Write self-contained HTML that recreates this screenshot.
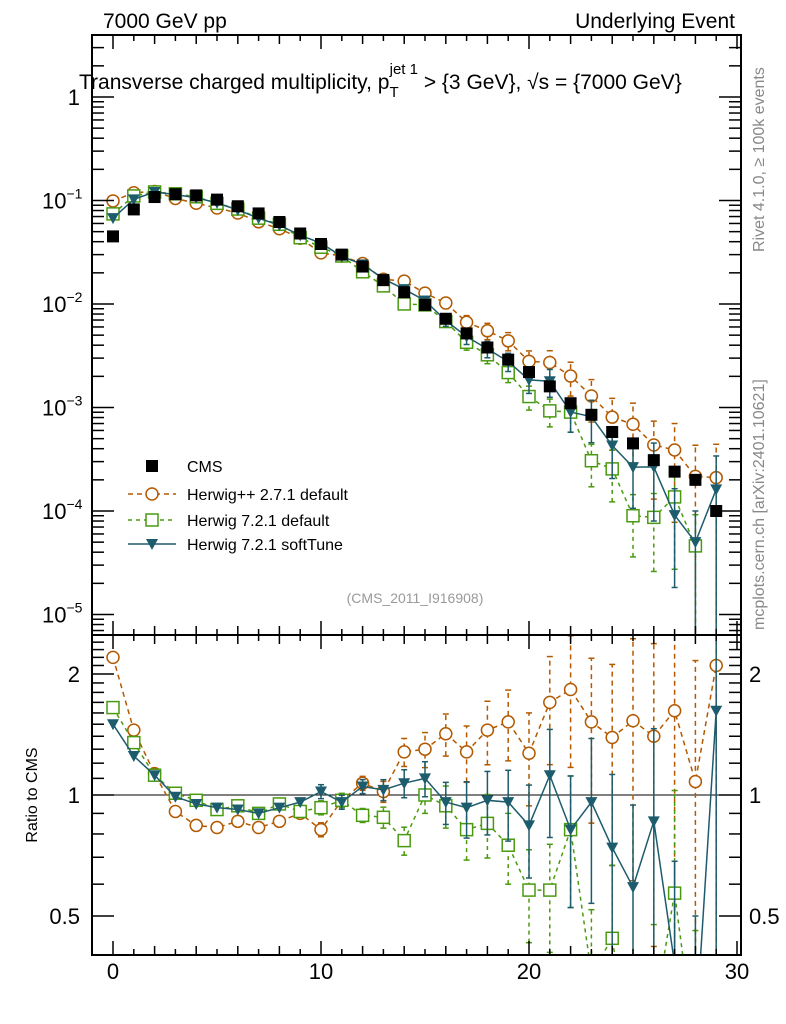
<!DOCTYPE html>
<html><head><meta charset="utf-8"><style>
html,body{margin:0;padding:0;background:#fff;width:786px;height:1024px;overflow:hidden;}
svg{display:block;font-family:"Liberation Sans",sans-serif;}
</style></head><body>
<svg id="chart" width="786" height="1024" viewBox="0 0 786 1024" xmlns="http://www.w3.org/2000/svg">
<text x="103" y="28" font-size="21">7000 GeV pp</text>
<text x="735" y="28" font-size="21" text-anchor="end">Underlying Event</text>
<text transform="translate(764,252) rotate(-90)" font-size="16" fill="#888">Rivet 4.1.0, ≥ 100k events</text>
<text transform="translate(764,630) rotate(-90)" font-size="16" fill="#888">mcplots.cern.ch [arXiv:2401.10621]</text>
<text transform="translate(37,795) rotate(-90)" font-size="16" text-anchor="middle">Ratio to CMS</text>
<text x="415" y="603" font-size="14" fill="#999" text-anchor="middle">(CMS_2011_I916908)</text>
<g id="main"></g>
<g id="ratio"></g>
<g id="axes"></g>
<text x="79" y="89" font-size="21">Transverse charged multiplicity, p<tspan dy="8" font-size="15">T</tspan><tspan dy="-23" dx="-9" font-size="15">jet 1</tspan><tspan dy="15"> &gt; {3 GeV}, √s = {7000 GeV}</tspan></text>
<g id="legend"></g>
</svg>
<script>
const nch = [0,1,2,3,4,5,6,7,8,9,10,11,12,13,14,15,16,17,18,19,20,21,22,23,24,25,26,27,28,29];
const cms = [0.045,0.082,0.108,0.115,0.112,0.102,0.088,0.075,0.062,0.048,0.038,0.030,0.023,0.017,0.013,0.0098,0.0072,0.0052,0.0038,0.0029,0.0022,0.0016,0.0011,0.00085,0.00058,0.00045,0.00031,0.00024,0.00020,0.00010];
const ratioHpp = [2.2,1.45,1.13,0.91,0.84,0.83,0.86,0.83,0.86,0.9,0.82,0.97,1.07,1.02,1.28,1.3,1.42,1.28,1.45,1.52,1.27,1.7,1.83,1.52,1.39,1.53,1.4,1.62,1.08,2.1];
const ratioH7 = [1.65,1.35,1.12,1.01,0.97,0.92,0.94,0.9,0.95,0.91,0.93,0.97,0.89,0.88,0.77,1.0,0.94,0.82,0.85,0.75,0.58,0.58,0.82,0.36,0.44,0.2,0.28,0.57,0.23,null];
const ratioSoft = [1.5,1.25,1.12,0.99,0.95,0.93,0.92,0.9,0.93,0.96,1.02,0.96,1.05,1.03,1.07,1.1,0.96,0.93,0.97,0.96,0.84,1.12,0.82,0.96,0.74,0.59,0.86,0.38,0.25,1.62];
const relErr = [0.01,0.01,0.01,0.01,0.01,0.01,0.01,0.01,0.01,0.01,0.02,0.02,0.02,0.03,0.04,0.05,0.06,0.08,0.09,0.1,0.13,0.15,0.18,0.22,0.26,0.3,0.35,0.4,0.5,0.55];
const mainTicks = [0,-1,-2,-3,-4,-5];
const ratioTicks = [2,1,0.5];
const xTicks = [0,10,20,30];

const NS="http://www.w3.org/2000/svg";
const L=92,R=741,MT=35,MB=635,RT=635,RB=955;
const X=v=>113+20.8*v;
const YM=v=>97-103.5*Math.log10(v);
const YR=v=>795-121*Math.log2(v);
function mk(tag,attrs,parent){const e=document.createElementNS(NS,tag);for(const k in attrs)e.setAttribute(k,attrs[k]);parent.appendChild(e);return e;}
const main=document.getElementById('main'),ratio=document.getElementById('ratio'),axes=document.getElementById('axes');

const series=[
 {r:ratioHpp,c:'#b35900',dash:'5,4',m:'circle',name:'herwigpp'},
 {r:ratioH7,c:'#4a9a10',dash:'4,4',m:'square',name:'herwig7'},
 {r:ratioSoft,c:'#1d5c6c',dash:'',m:'tri',name:'softtune'}];

function marker(g,m,x,y,c){
 let e;
 if(m==='circle'){e=mk('circle',{cx:x,cy:y,r:6,fill:'#fff',stroke:c,'stroke-width':1.5},g);}
 else if(m==='square'){e=mk('rect',{x:x-6,y:y-6,width:12,height:12,fill:'#fff',stroke:c,'stroke-width':1.5},g);}
 else if(m==='tri'){e=mk('path',{d:`M${x-6},${y-5}L${x+6},${y-5}L${x},${y+6}Z`,fill:c},g);}
 else {e=mk('rect',{x:x-6,y:y-6,width:12,height:12,fill:'#000'},g);}
 return e;
}
function clip(g,id,y0,y1){const d=mk('clipPath',{id:id},g);mk('rect',{x:L,y:y0,width:R-L,height:y1-y0},d);}
clip(main,'cm',MT,MB);clip(ratio,'cr',RT,RB);
const mg=mk('g',{'clip-path':'url(#cm)'},main);
const rg=mk('g',{'clip-path':'url(#cr)'},ratio);

const rl=mk('line',{x1:L,x2:R,y1:YR(1),y2:YR(1),stroke:'#000','stroke-width':1},rg);



series.forEach(s=>{
 const idx=nch.map((n,i)=>i).filter(i=>s.r[i]!==null);
 const vals=cms.map((v,i)=>s.r[i]===null?null:v*s.r[i]);
 const lg=mk('g',{},mg);
 
 
 const rgg=mk('g',{},rg);
 
 
 const pm=idx.map(i=>`${X(nch[i])},${YM(vals[i])}`).join(' ');
 const pr=idx.map(i=>`${X(nch[i])},${YR(s.r[i])}`).join(' ');
 mk('polyline',{points:pm,fill:'none',stroke:s.c,'stroke-width':1.5,'stroke-dasharray':s.dash},lg);
 mk('polyline',{points:pr,fill:'none',stroke:s.c,'stroke-width':1.5,'stroke-dasharray':s.dash},rgg);
 idx.forEach(i=>{
  const n=nch[i];
  const e=relErr[i]*2;
  const lo=Math.max(vals[i]*(1-e),1e-7),hi=vals[i]*(1+e);
  const x=X(n);
  if(e>0.03){
   mk('line',{x1:x,x2:x,y1:YM(lo),y2:YM(hi),stroke:s.c,'stroke-width':1.5,'stroke-dasharray':s.dash},lg);
   mk('line',{x1:x-3,x2:x+3,y1:YM(hi),y2:YM(hi),stroke:s.c,'stroke-width':1.5},lg);
   mk('line',{x1:x-3,x2:x+3,y1:YM(lo),y2:YM(lo),stroke:s.c,'stroke-width':1.5},lg);
   const rlo=Math.max(s.r[i]*(1-e),0.01),rhi=s.r[i]*(1+e);
   mk('line',{x1:x,x2:x,y1:YR(rlo),y2:YR(rhi),stroke:s.c,'stroke-width':1.5,'stroke-dasharray':s.dash},rgg);
   mk('line',{x1:x-3,x2:x+3,y1:YR(rhi),y2:YR(rhi),stroke:s.c,'stroke-width':1.5},rgg);
   mk('line',{x1:x-3,x2:x+3,y1:YR(rlo),y2:YR(rlo),stroke:s.c,'stroke-width':1.5},rgg);
  }
  const p=marker(lg,s.m,x,YM(vals[i]),s.c);
  
  
  const q=marker(rgg,s.m,x,YR(s.r[i]),s.c);
  
  
 });
});
const dg=mk('g',{},mg);


nch.forEach((n,i)=>{
 const p=marker(dg,'data',X(n),YM(cms[i]),'#000');
 
 
});

mk('rect',{x:L,y:MT,width:R-L,height:MB-MT,fill:'none',stroke:'#000','stroke-width':2},axes);
mk('rect',{x:L,y:RT,width:R-L,height:RB-RT,fill:'none',stroke:'#000','stroke-width':2},axes);
for(let v=-1;v<=30;v++){
 const x=X(v);const len=(v%10===0)?14:(v%2===0?9:6);
 [[MT,1],[MB,-1],[RT,1],[RB,-1]].forEach(([y,d])=>mk('line',{x1:x,x2:x,y1:y,y2:y+d*len,stroke:'#000','stroke-width':1.5},axes));
}
xTicks.forEach(v=>{
 const t=mk('text',{x:X(v),y:979,'font-size':22,'text-anchor':'middle'},axes);t.textContent=v;
 
 
});
for(let d=-6;d<=0;d++){for(let k=1;k<=9;k++){
 const v=k*Math.pow(10,d);const y=YM(v);if(y<MT||y>MB)continue;
 const len=k===1?22:12;
 mk('line',{x1:L,x2:L+len,y1:y,y2:y,stroke:'#000','stroke-width':1.5},axes);
 mk('line',{x1:R,x2:R-len,y1:y,y2:y,stroke:'#000','stroke-width':1.5},axes);
}}
mainTicks.forEach(d=>{
 const t=mk('text',{x:d===0?80:42,y:YM(Math.pow(10,d))+8,'font-size':22,'text-anchor':d===0?'end':'start'},axes);
 
 
 if(d===0)t.textContent='1';
 else{t.textContent='10';const s=mk('tspan',{dy:-10,'font-size':14},t);s.textContent='−'+(-d);}
});
for(let v=0.4;v<=2.5;v+=0.1){const y=YR(v);if(y<RT||y>RB)continue;
 const major=Math.abs(v-1)<1e-6||Math.abs(v-2)<1e-6||Math.abs(v-0.5)<1e-6;const len=major?22:12;
 mk('line',{x1:L,x2:L+len,y1:y,y2:y,stroke:'#000','stroke-width':1.5},axes);
 mk('line',{x1:R,x2:R-len,y1:y,y2:y,stroke:'#000','stroke-width':1.5},axes);
}
ratioTicks.forEach(v=>{
 const t=mk('text',{x:80,y:YR(v)+8,'font-size':22,'text-anchor':'end'},axes);t.textContent=v;
 
 
 const t2=mk('text',{x:749,y:YR(v)+8,'font-size':22},axes);t2.textContent=v;
 
 
});
const lgd=document.getElementById('legend');
const entries=[['data','#000','','CMS',466],['circle','#b35900','5,4','Herwig++ 2.7.1 default',494],['square','#4a9a10','4,4','Herwig 7.2.1 default',520],['tri','#1d5c6c','','Herwig 7.2.1 softTune',544]];
entries.forEach(([m,c,d,label,y])=>{
 const g=mk('g',{},lgd);
 
 
 if(m!=='data')mk('line',{x1:128,x2:176,y1:y,y2:y,stroke:c,'stroke-width':1.5,'stroke-dasharray':d},g);
 marker(g,m,152,y,c);
 const t=mk('text',{x:187,y:y+6,'font-size':16},g);t.textContent=label;
});
</script>
</body></html>
